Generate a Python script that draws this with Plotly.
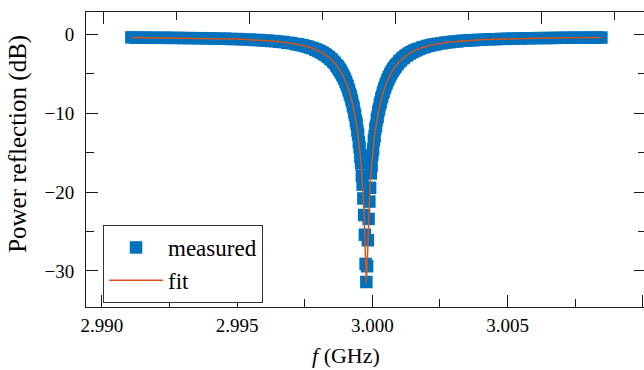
import plotly.graph_objects as go

# ---- data ----
freq_ghz = [
    # low-frequency side
    2.991092, 2.991240, 2.991462, 2.991684, 2.991906, 2.992127, 2.992349, 2.992571, 2.992793, 2.993015,
    2.993237, 2.993458, 2.993680, 2.993902, 2.994124, 2.994346, 2.994567, 2.994789, 2.995011, 2.995233,
    2.995455, 2.995676, 2.995824, 2.995972, 2.996120, 2.996268, 2.996416, 2.996564, 2.996712, 2.996859,
    2.997007, 2.997155, 2.997248, 2.997340, 2.997433, 2.997525, 2.997617, 2.997710, 2.997802, 2.997895,
    2.997950, 2.998006, 2.998061, 2.998116, 2.998172, 2.998227, 2.998283, 2.998338, 2.998394, 2.998449,
    2.998505, 2.998560, 2.998616, 2.998671, 2.998699, 2.998726, 2.998754, 2.998782, 2.998810, 2.998837,
    2.998865, 2.998893, 2.998921, 2.998948, 2.998976, 2.999004, 2.999031, 2.999059, 2.999087, 2.999115,
    2.999142, 2.999170, 2.999198, 2.999226, 2.999253, 2.999281, 2.999309, 2.999336, 2.999364, 2.999392,
    2.999420, 2.999447, 2.999475, 2.999503, 2.999530, 2.999558, 2.999586, 2.999614, 2.999641, 2.999669,
    2.999697, 2.999725, 2.999752,
    # resonance
    2.999780,
    # high-frequency side
    2.999808, 2.999836, 2.999863, 2.999891, 2.999919, 2.999946, 2.999974, 3.000002, 3.000030, 3.000057,
    3.000085, 3.000113, 3.000140, 3.000168, 3.000196, 3.000224, 3.000251, 3.000279, 3.000307, 3.000335,
    3.000362, 3.000390, 3.000418, 3.000445, 3.000473, 3.000501, 3.000529, 3.000556, 3.000584, 3.000612,
    3.000640, 3.000667, 3.000695, 3.000723, 3.000750, 3.000778, 3.000806, 3.000834, 3.000861, 3.000889,
    3.000945, 3.001000, 3.001055, 3.001111, 3.001166, 3.001222, 3.001277, 3.001333, 3.001388, 3.001444,
    3.001499, 3.001555, 3.001610, 3.001665, 3.001758, 3.001850, 3.001943, 3.002035, 3.002128, 3.002220,
    3.002312, 3.002405, 3.002553, 3.002701, 3.002848, 3.002996, 3.003144, 3.003292, 3.003440, 3.003588,
    3.003736, 3.003884, 3.004105, 3.004327, 3.004549, 3.004771, 3.004993, 3.005214, 3.005436, 3.005658,
    3.005880, 3.006102, 3.006324, 3.006545, 3.006767, 3.006989, 3.007211, 3.007433, 3.007654, 3.007876,
    3.008098, 3.008320, 3.008468,
]

measured_db = [
    -0.37, -0.41, -0.39, -0.42, -0.40, -0.43, -0.41, -0.44, -0.43, -0.46,
    -0.45, -0.48, -0.47, -0.51, -0.50, -0.54, -0.53, -0.58, -0.58, -0.63,
    -0.64, -0.70, -0.71, -0.76, -0.77, -0.83, -0.86, -0.93, -0.96, -1.05,
    -1.10, -1.21, -1.25, -1.33, -1.38, -1.48, -1.55, -1.67, -1.76, -1.91,
    -1.97, -2.07, -2.15, -2.28, -2.35, -2.51, -2.59, -2.77, -2.88, -3.09,
    -3.22, -3.46, -3.63, -3.91, -3.99, -4.17, -4.26, -4.45, -4.55, -4.76,
    -4.88, -5.10, -5.23, -5.50, -5.63, -5.92, -6.07, -6.39, -6.57, -6.94,
    -7.14, -7.53, -7.77, -8.21, -8.49, -9.00, -9.31, -9.90, -10.26, -10.95,
    -11.37, -12.18, -12.70, -13.68, -14.32, -15.52, -16.35, -17.92, -19.05, -20.80,
    -22.90, -25.40, -29.10,
    -31.40,
    -29.40, -26.10, -23.40, -21.20, -19.45, -17.62, -16.65, -15.27, -14.58, -13.46,
    -12.92, -11.98, -11.58, -10.78, -10.44, -9.75, -9.45, -8.88, -8.60, -8.11,
    -7.87, -7.44, -7.24, -6.85, -6.66, -6.32, -6.15, -5.85, -5.70, -5.43,
    -5.30, -5.04, -4.94, -4.70, -4.61, -4.39, -4.31, -4.12, -4.04, -3.86,
    -3.68, -3.42, -3.27, -3.05, -2.93, -2.73, -2.64, -2.47, -2.39, -2.25,
    -2.18, -2.05, -2.00, -1.89, -1.79, -1.65, -1.58, -1.46, -1.40, -1.31,
    -1.27, -1.19, -1.12, -1.03, -0.98, -0.91, -0.88, -0.81, -0.79, -0.74,
    -0.73, -0.68, -0.66, -0.61, -0.60, -0.56, -0.55, -0.52, -0.51, -0.48,
    -0.48, -0.46, -0.46, -0.44, -0.44, -0.42, -0.42, -0.40, -0.41, -0.39,
    -0.40, -0.38, -0.39,
]

fit_db = [
    -0.390, -0.393, -0.398, -0.403, -0.409, -0.416, -0.422, -0.430, -0.438, -0.447,
    -0.457, -0.468, -0.480, -0.494, -0.509, -0.526, -0.545, -0.567, -0.590, -0.620,
    -0.650, -0.690, -0.720, -0.750, -0.780, -0.820, -0.870, -0.920, -0.970, -1.040,
    -1.110, -1.200, -1.260, -1.320, -1.390, -1.470, -1.560, -1.660, -1.770, -1.900,
    -1.980, -2.060, -2.160, -2.260, -2.370, -2.490, -2.610, -2.750, -2.900, -3.070,
    -3.240, -3.440, -3.650, -3.880, -4.010, -4.140, -4.280, -4.420, -4.570, -4.730,
    -4.900, -5.070, -5.260, -5.460, -5.660, -5.880, -6.110, -6.350, -6.610, -6.890,
    -7.180, -7.480, -7.810, -8.160, -8.540, -8.940, -9.370, -9.830, -10.330, -10.870,
    -11.450, -12.090, -12.790, -13.570, -14.430, -15.390, -16.490, -17.760, -19.240, -21.010,
    -23.210, -25.990, -29.340,
    -31.490,
    -29.340, -25.990, -23.210, -21.010, -19.240, -17.760, -16.490, -15.390, -14.430, -13.570,
    -12.790, -12.090, -11.450, -10.870, -10.330, -9.830, -9.370, -8.940, -8.540, -8.160,
    -7.810, -7.480, -7.180, -6.890, -6.610, -6.350, -6.110, -5.880, -5.660, -5.460,
    -5.260, -5.070, -4.900, -4.730, -4.570, -4.420, -4.280, -4.140, -4.010, -3.880,
    -3.650, -3.440, -3.240, -3.070, -2.900, -2.750, -2.610, -2.490, -2.370, -2.260,
    -2.160, -2.060, -1.980, -1.900, -1.770, -1.660, -1.560, -1.470, -1.390, -1.320,
    -1.260, -1.200, -1.110, -1.040, -0.970, -0.920, -0.870, -0.820, -0.780, -0.750,
    -0.720, -0.690, -0.650, -0.620, -0.590, -0.567, -0.545, -0.526, -0.509, -0.494,
    -0.480, -0.468, -0.457, -0.447, -0.438, -0.430, -0.422, -0.416, -0.409, -0.403,
    -0.398, -0.393, -0.390,
]

X_RANGE = [2.989416, 3.010044]
Y_RANGE = [-34.57, 2.85]
TOP_RANGE = [-0.1185, 3.7034]   # unlabeled secondary top axis

BLUE = "#0072BD"
ORANGE = "#D95319"
FONT = "Liberation Serif, Times New Roman, serif"
AX = "#1a1a1a"

fig = go.Figure()
fig.add_trace(go.Scatter(
    x=freq_ghz, y=measured_db, mode="markers", name="measured",
    marker=dict(symbol="square", size=12.5, color=BLUE, line=dict(width=0)),
))
fig.add_trace(go.Scatter(
    x=freq_ghz, y=fit_db, mode="lines", name="fit",
    line=dict(color=ORANGE, width=1.5),
))
# helper trace so the top/right secondary axes are drawn
fig.add_trace(go.Scatter(
    x=[TOP_RANGE[0]], y=[None], xaxis="x2", yaxis="y2", mode="markers",
    showlegend=False, hoverinfo="skip",
))

tickfont = dict(family=FONT, size=19, color="black")

fig.update_layout(
    width=644, height=370,
    margin=dict(l=86, r=0, t=12, b=63),
    paper_bgcolor="white", plot_bgcolor="white",
    font=dict(family=FONT, size=19, color="black"),
    showlegend=True,
    legend=dict(
        x=0.0305, y=0.278, xanchor="left", yanchor="top",
        bordercolor="#333333", borderwidth=1, bgcolor="white",
        font=dict(family=FONT, size=23, color="black"),
        itemwidth=54, tracegroupgap=0,
        entrywidth=98, entrywidthmode="pixels",
    ),
    xaxis=dict(
        range=X_RANGE, tickmode="linear", tick0=2.990, dtick=0.005, tickformat=".3f",
        ticks="inside", ticklen=12, tickwidth=1, tickcolor=AX,
        minor=dict(dtick=0.0025, tick0=2.990, ticks="inside", ticklen=8, tickwidth=1, tickcolor=AX),
        showline=True, linecolor=AX, linewidth=1, mirror=False,
        showgrid=False, zeroline=False, ticklabelstandoff=1,
        tickfont=tickfont,
    ),
    yaxis=dict(
        range=Y_RANGE, tickmode="linear", tick0=0, dtick=10,
        ticks="inside", ticklen=12, tickwidth=1, tickcolor=AX,
        minor=dict(dtick=5, tick0=0, ticks="inside", ticklen=8, tickwidth=1, tickcolor=AX),
        showline=True, linecolor=AX, linewidth=1, mirror=False,
        showgrid=False, zeroline=False, ticklabelstandoff=7,
        tickfont=tickfont,
    ),
    xaxis2=dict(
        overlaying="x", side="top", anchor="y2", range=TOP_RANGE,
        tickmode="linear", tick0=0, dtick=1, showticklabels=False,
        ticks="inside", ticklen=12, tickwidth=1, tickcolor=AX,
        minor=dict(dtick=0.5, ticks="inside", ticklen=8, tickwidth=1, tickcolor=AX),
        showline=True, linecolor=AX, linewidth=1,
        showgrid=False, zeroline=False,
    ),
    yaxis2=dict(
        overlaying="y", side="right", anchor="x2", range=Y_RANGE,
        tickmode="linear", tick0=0, dtick=10, showticklabels=False,
        ticks="inside", ticklen=10, tickwidth=1, tickcolor=AX,
        minor=dict(dtick=5, ticks="inside", ticklen=6, tickwidth=1, tickcolor=AX),
        showline=False, showgrid=False, zeroline=False,
    ),
    annotations=[
        dict(text="<i>f</i> (GHz)", xref="paper", yref="paper",
             x=0.466, y=-0.166, xanchor="center", yanchor="middle",
             showarrow=False, font=dict(family=FONT, size=22, color="black")),
        dict(text="Power reflection (dB)", xref="paper", yref="paper",
             x=-0.1219, y=0.553, xanchor="center", yanchor="middle", textangle=-90,
             showarrow=False, font=dict(family=FONT, size=25, color="black")),
    ],
)

fig.write_html("out.html")
